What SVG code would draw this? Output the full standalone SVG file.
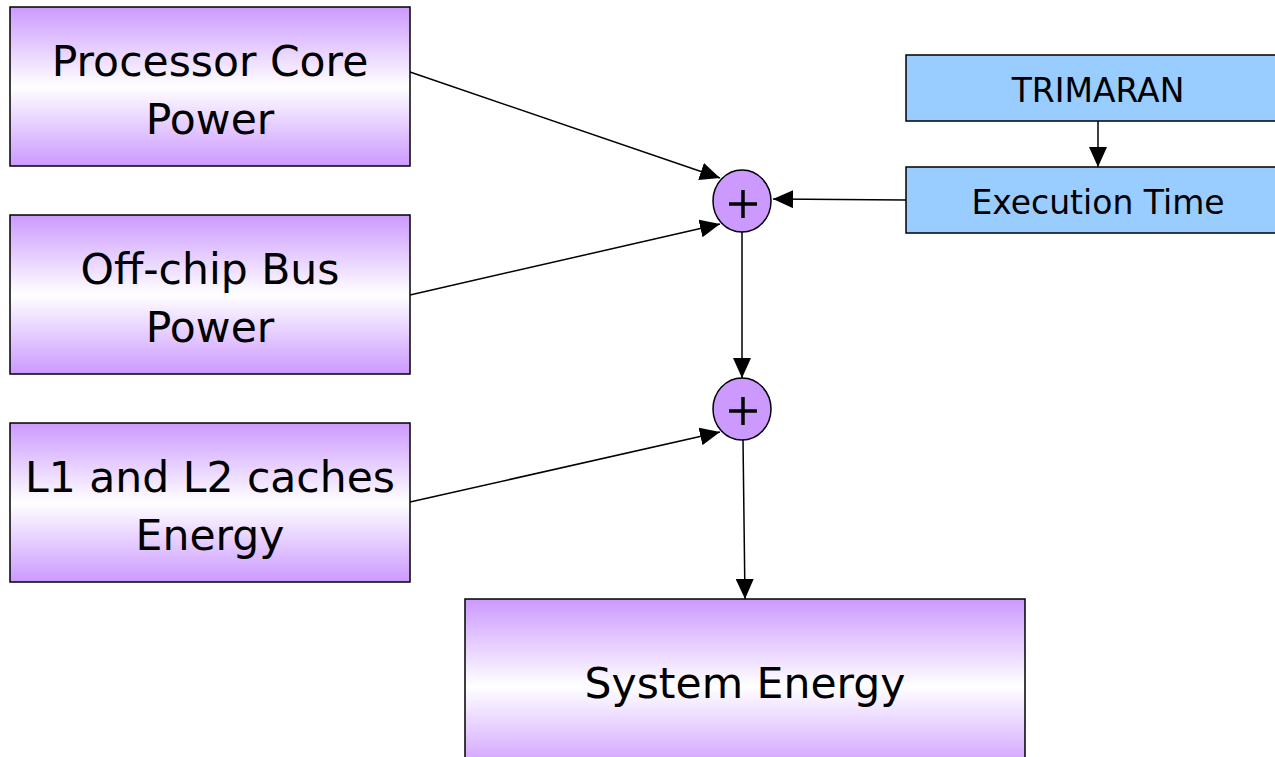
<svg xmlns="http://www.w3.org/2000/svg" width="1275" height="757" viewBox="0 0 1275 757">
  <defs>
    <linearGradient id="violet" x1="0" y1="0" x2="0" y2="1">
      <stop offset="0" stop-color="#CC99FF"/>
      <stop offset="0.5" stop-color="#FFFFFF"/>
      <stop offset="1" stop-color="#CC99FF"/>
    </linearGradient>
    <marker id="head" viewBox="0 0 20 18" refX="20" refY="9" markerWidth="20" markerHeight="18" markerUnits="userSpaceOnUse" orient="auto">
      <path d="M0,0 L20,9 L0,18 Z" fill="#000"/>
    </marker>
  </defs>
  <style>
    .box { fill: url(#violet); stroke: #000; stroke-width: 1.5; }
    .blue { fill: #99CCFF; stroke: #000; stroke-width: 1.5; }
    .sum { fill: #CC99FF; stroke: #000; stroke-width: 1.5; }
    .label { font-family: "DejaVu Sans", sans-serif; font-size: 42.5px; fill: #000; text-anchor: middle; }
    .small { font-family: "DejaVu Sans", sans-serif; font-size: 33px; fill: #000; text-anchor: middle; }
    .plus { stroke: #000; stroke-width: 3.5; }
    .edge { stroke: #000; stroke-width: 1.5; fill: none; marker-end: url(#head); }
  </style>

  <rect width="1275" height="757" fill="#fff"/>

  <g id="connectors">
    <line class="edge" x1="410" y1="72" x2="720" y2="178"/>
    <line class="edge" x1="410" y1="295" x2="720" y2="224"/>
    <line class="edge" x1="906" y1="200" x2="773" y2="199"/>
    <line class="edge" x1="1098" y1="121" x2="1098" y2="167"/>
    <line class="edge" x1="742" y1="232" x2="742" y2="378"/>
    <line class="edge" x1="410" y1="502" x2="720" y2="432"/>
    <line class="edge" x1="743" y1="440" x2="745" y2="599"/>
  </g>

  <g id="processor-core-power">
    <rect class="box" x="10" y="7" width="400" height="159"/>
    <text class="label" x="210" y="76">Processor Core</text>
    <text class="label" x="210" y="134">Power</text>
  </g>

  <g id="off-chip-bus-power">
    <rect class="box" x="10" y="215" width="400" height="159"/>
    <text class="label" x="210" y="284">Off-chip Bus</text>
    <text class="label" x="210" y="342">Power</text>
  </g>

  <g id="caches-energy">
    <rect class="box" x="10" y="423" width="400" height="159"/>
    <text class="label" x="210" y="492">L1 and L2 caches</text>
    <text class="label" x="210" y="550">Energy</text>
  </g>

  <g id="system-energy">
    <rect class="box" x="465" y="599" width="560" height="175"/>
    <text class="label" x="745" y="698">System Energy</text>
  </g>

  <g id="trimaran">
    <rect class="blue" x="906" y="55" width="380" height="66"/>
    <text class="small" x="1098" y="102">TRIMARAN</text>
  </g>

  <g id="execution-time">
    <rect class="blue" x="906" y="167" width="380" height="66"/>
    <text class="small" x="1098" y="214">Execution Time</text>
  </g>

  <g id="sum-1">
    <ellipse class="sum" cx="742" cy="201" rx="29" ry="31"/>
    <line class="plus" x1="729" y1="204" x2="757" y2="204"/>
    <line class="plus" x1="743" y1="190" x2="743" y2="218"/>
  </g>

  <g id="sum-2">
    <ellipse class="sum" cx="742" cy="409" rx="29" ry="31"/>
    <line class="plus" x1="729" y1="411" x2="757" y2="411"/>
    <line class="plus" x1="743" y1="397" x2="743" y2="425"/>
  </g>
</svg>
